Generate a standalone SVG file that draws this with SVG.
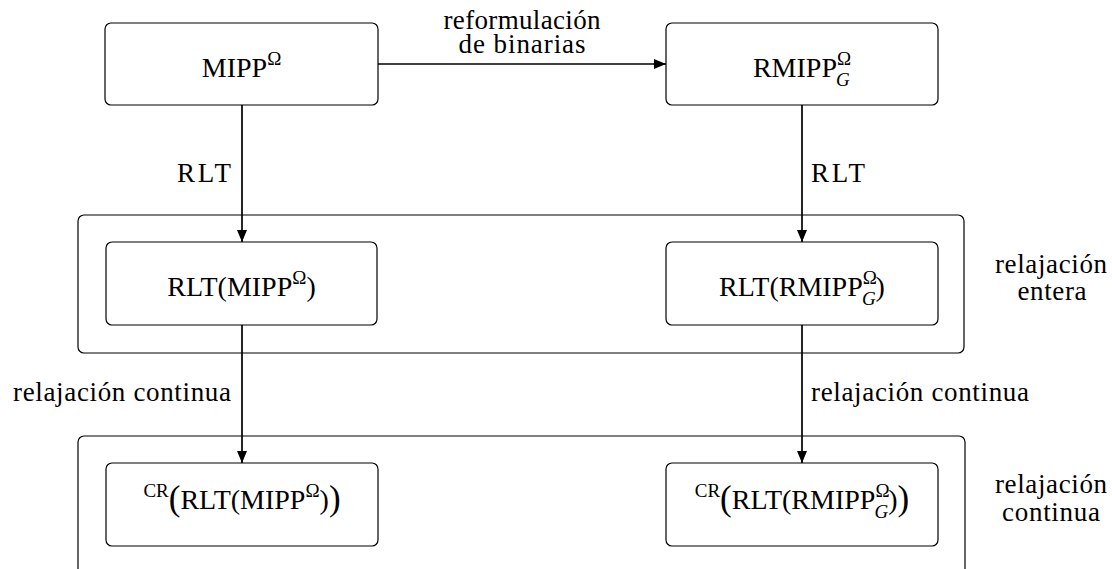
<svg xmlns="http://www.w3.org/2000/svg" width="1112" height="569" viewBox="0 0 1112 569">
<style>
text{font-family:'Liberation Serif','DejaVu Serif',serif;font-size:27px;fill:#000}
.n{font-size:28px}
.m{text-anchor:middle}
.e{text-anchor:end}
.box{fill:#fff;stroke:#000;stroke-width:1.2}
.cont{fill:none;stroke:#000;stroke-width:1.2}
.sup{font-size:19px}
.big{font-size:35px}
.it{font-style:italic}
.conn line{stroke:#000;stroke-width:1.7}
</style>
<defs>
<marker id="ah" viewBox="0 0 12 10" refX="12" refY="5" markerWidth="12" markerHeight="10" markerUnits="userSpaceOnUse" orient="auto">
<path d="M0,0 L12,5 L0,10 Z" fill="#000"/>
</marker>
</defs>
<g id="grp-entera">
<rect class="cont" x="78" y="215" width="886" height="138" rx="6"/>
<text class="m"><tspan x="1051" y="273" textLength="112" lengthAdjust="spacing">relajación</tspan><tspan x="1052" y="300" textLength="69" lengthAdjust="spacing">entera</tspan></text>
</g>
<g id="grp-continua">
<rect class="cont" x="78" y="436" width="887" height="150" rx="6"/>
<text class="m"><tspan x="1051" y="493" textLength="112" lengthAdjust="spacing">relajación</tspan><tspan x="1051" y="521" textLength="98" lengthAdjust="spacing">continua</tspan></text>
</g>
<g class="conn" id="connectors">
<line x1="378" y1="64" x2="666" y2="64" marker-end="url(#ah)"/>
<line x1="242" y1="105" x2="242" y2="242" marker-end="url(#ah)"/>
<line x1="802" y1="105" x2="802" y2="242" marker-end="url(#ah)"/>
<line x1="242" y1="325" x2="242" y2="463" marker-end="url(#ah)"/>
<line x1="802" y1="325" x2="802" y2="463" marker-end="url(#ah)"/>
<text class="m"><tspan x="522" y="29" textLength="157" lengthAdjust="spacing">reformulación</tspan><tspan x="522" y="53" textLength="127" lengthAdjust="spacing">de binarias</tspan></text>
<text class="e" x="231" y="182" textLength="54" lengthAdjust="spacing">RLT</text>
<text x="811" y="182" textLength="54" lengthAdjust="spacing">RLT</text>
<text class="e" x="231" y="401" textLength="218" lengthAdjust="spacing">relajación continua</text>
<text x="811" y="401" textLength="218" lengthAdjust="spacing">relajación continua</text>
</g>
<g id="n-mipp">
<rect class="box" x="105" y="23" width="273" height="82" rx="6"/>
<text class="m n" x="241.5" y="77">MIPP<tspan class="sup" dy="-12">Ω</tspan></text>
</g>
<g id="n-rmipp">
<rect class="box" x="666" y="23" width="272" height="82" rx="6"/>
<text class="m n" x="802" y="77">RMIPP<tspan class="sup" dy="-12">Ω</tspan><tspan class="sup it" dx="-15" dy="21">G</tspan></text>
</g>
<g id="n-rlt-mipp">
<rect class="box" x="106" y="242" width="271" height="83" rx="6"/>
<text class="m n" x="241.5" y="296">RLT(MIPP<tspan class="sup" dy="-12">Ω</tspan><tspan dy="12">)</tspan></text>
</g>
<g id="n-rlt-rmipp">
<rect class="box" x="666" y="242" width="272" height="83" rx="6"/>
<text class="m n" x="802" y="296">RLT(RMIPP<tspan class="sup" dy="-12">Ω</tspan><tspan class="sup it" dx="-15" dy="21">G</tspan><tspan dy="-9">)</tspan></text>
</g>
<g id="n-cr-mipp">
<rect class="box" x="106" y="463" width="272" height="83" rx="6"/>
<text class="m n" x="242" y="509"><tspan class="sup" dy="-12">CR</tspan><tspan class="big" dy="13">(</tspan><tspan dy="-1">RLT(MIPP</tspan><tspan class="sup" dy="-12">Ω</tspan><tspan dy="12">)</tspan><tspan class="big" dy="1">)</tspan></text>
</g>
<g id="n-cr-rmipp">
<rect class="box" x="666" y="463" width="272" height="83" rx="6"/>
<text class="m n" x="802" y="509"><tspan class="sup" dy="-12">CR</tspan><tspan class="big" dy="13">(</tspan><tspan dy="-1">RLT(RMIPP</tspan><tspan class="sup" dy="-12">Ω</tspan><tspan class="sup it" dx="-15" dy="21">G</tspan><tspan dy="-9">)</tspan><tspan class="big" dy="1">)</tspan></text>
</g>
</svg>
